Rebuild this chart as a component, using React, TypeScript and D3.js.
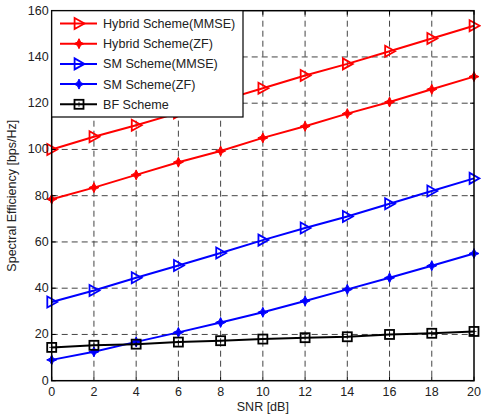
import React from "react";
import * as d3 from "d3";

const snr = [0, 2, 4, 6, 8, 10, 12, 14, 16, 18, 20];
const hybridMMSE = [100, 105.5, 110.5, 115.8, 121, 126.5, 132, 137, 142.5, 148, 153.5];
const hybridZF = [78.5, 83.5, 89, 94.5, 99.3, 105, 110, 115.5, 120.5, 126, 131.5];
const smMMSE = [34, 39, 44.5, 49.8, 55.2, 60.8, 66, 71, 76.5, 82, 87.5];
const smZF = [9, 12.5, 16.8, 20.9, 25.2, 29.6, 34.5, 39.5, 44.5, 49.7, 55];
const bfScheme = [14.4, 15.3, 15.8, 16.7, 17.3, 18, 18.6, 19, 20, 20.5, 21.3];
const xTicks = [0, 2, 4, 6, 8, 10, 12, 14, 16, 18, 20];
const yTicks = [0, 20, 40, 60, 80, 100, 120, 140, 160];

type Series = { name: string; values: number[]; color: string; marker: "tri" | "star" | "sq" };
const series: Series[] = [
  { name: "Hybrid Scheme(MMSE)", values: hybridMMSE, color: "#ff0000", marker: "tri" },
  { name: "Hybrid Scheme(ZF)", values: hybridZF, color: "#ff0000", marker: "star" },
  { name: "SM Scheme(MMSE)", values: smMMSE, color: "#0000ff", marker: "tri" },
  { name: "SM Scheme(ZF)", values: smZF, color: "#0000ff", marker: "star" },
  { name: "BF Scheme", values: bfScheme, color: "#000000", marker: "sq" },
];

const W = 481, H = 418;
const L = 51.7, R = 474, T = 10.7, B = 380.7;
const font = "'Liberation Sans', Arial, sans-serif";

function Marker({ kind, x, y, color }: { kind: string; x: number; y: number; color: string }) {
  if (kind === "tri") {
    const s = 5.5;
    return <path d={`M${x - s * 0.8},${y - s}L${x + s},${y}L${x - s * 0.8},${y + s}Z`} fill="none" stroke={color} strokeWidth={1.8} />;
  }
  if (kind === "star") {
    const a = 5, b = 1.6;
    const d = `M${x - a},${y}L${x - b},${y - b}L${x},${y - a}L${x + b},${y - b}L${x + a},${y}L${x + b},${y + b}L${x},${y + a}L${x - b},${y + b}Z`;
    return <path d={d} fill={color} stroke={color} strokeWidth={1} strokeLinejoin="round" />;
  }
  const s = 4.5;
  return (
    <g>
      <rect x={x - s} y={y - s} width={2 * s} height={2 * s} fill="none" stroke={color} strokeWidth={1.8} />
      <line x1={x - 2.5} y1={y} x2={x + 2.5} y2={y} stroke={color} strokeWidth={0.8} />
      <line x1={x} y1={y - 2.5} x2={x} y2={y + 2.5} stroke={color} strokeWidth={0.8} />
    </g>
  );
}

export default function App() {
  const x = d3.scaleLinear().domain([0, 20]).range([L, R]);
  const y = d3.scaleLinear().domain([0, 160]).range([B, T]);
  const line = d3.line<number>().x((_, i) => x(snr[i])).y((d) => y(d));

  const legX = L, legY = T, legW = 243 - L, legH = 117 - T;

  return (
    <svg width={W} height={H} style={{ position: "absolute", left: 0, top: 0, background: "#fff" }} fontFamily={font}>
      <rect x={0} y={0} width={W} height={H} fill="#fff" />
      {/* grid */}
      <g stroke="#444" strokeWidth={1} strokeDasharray="6,4">
        {xTicks.slice(1, -1).map((t) => (
          <line key={"gx" + t} x1={x(t)} x2={x(t)} y1={T} y2={B} />
        ))}
        {yTicks.slice(1, -1).map((t) => (
          <line key={"gy" + t} x1={L} x2={R} y1={y(t)} y2={y(t)} />
        ))}
      </g>
      {/* series */}
      {series.map((s) => (
        <g key={s.name}>
          <path d={line(s.values) || ""} fill="none" stroke={s.color} strokeWidth={2} />
          {s.values.map((v, i) => (
            <Marker key={i} kind={s.marker} x={x(snr[i])} y={y(v)} color={s.color} />
          ))}
        </g>
      ))}
      {/* axes box */}
      <rect x={L} y={T} width={R - L} height={B - T} fill="none" stroke="#000" strokeWidth={1.5} />
      {/* ticks */}
      <g stroke="#000" strokeWidth={1}>
        {xTicks.map((t) => (
          <g key={"tx" + t}>
            <line x1={x(t)} x2={x(t)} y1={B} y2={B - 4} />
            <line x1={x(t)} x2={x(t)} y1={T} y2={T + 4} />
          </g>
        ))}
        {yTicks.map((t) => (
          <g key={"ty" + t}>
            <line x1={L} x2={L + 4} y1={y(t)} y2={y(t)} />
            <line x1={R} x2={R - 4} y1={y(t)} y2={y(t)} />
          </g>
        ))}
      </g>
      <g fontSize={12.5} fill="#222">
        {xTicks.map((t) => (
          <text key={"lx" + t} x={x(t)} y={B + 15} textAnchor="middle">{t}</text>
        ))}
        {yTicks.map((t) => (
          <text key={"ly" + t} x={L - 3} y={y(t) + 4} textAnchor="end">{t}</text>
        ))}
      </g>
      <text x={(L + R) / 2} y={411} fontSize={12.5} textAnchor="middle" fill="#222">SNR [dB]</text>
      <text transform={`translate(16,${(T + B) / 2}) rotate(-90)`} fontSize={12.5} textAnchor="middle" fill="#222">
        Spectral Efficiency [bps/Hz]
      </text>
      {/* legend */}
      <rect x={legX} y={legY} width={legW} height={legH} fill="#fff" stroke="#000" strokeWidth={1.2} />
      {series.map((s, i) => {
        const ly = 23.5 + i * 20.2;
        return (
          <g key={"leg" + s.name}>
            <line x1={60} x2={97} y1={ly} y2={ly} stroke={s.color} strokeWidth={2} />
            <Marker kind={s.marker} x={79} y={ly} color={s.color} />
            <text x={103} y={ly + 4.5} fontSize={12.6} fill="#222">{s.name}</text>
          </g>
        );
      })}
    </svg>
  );
}
